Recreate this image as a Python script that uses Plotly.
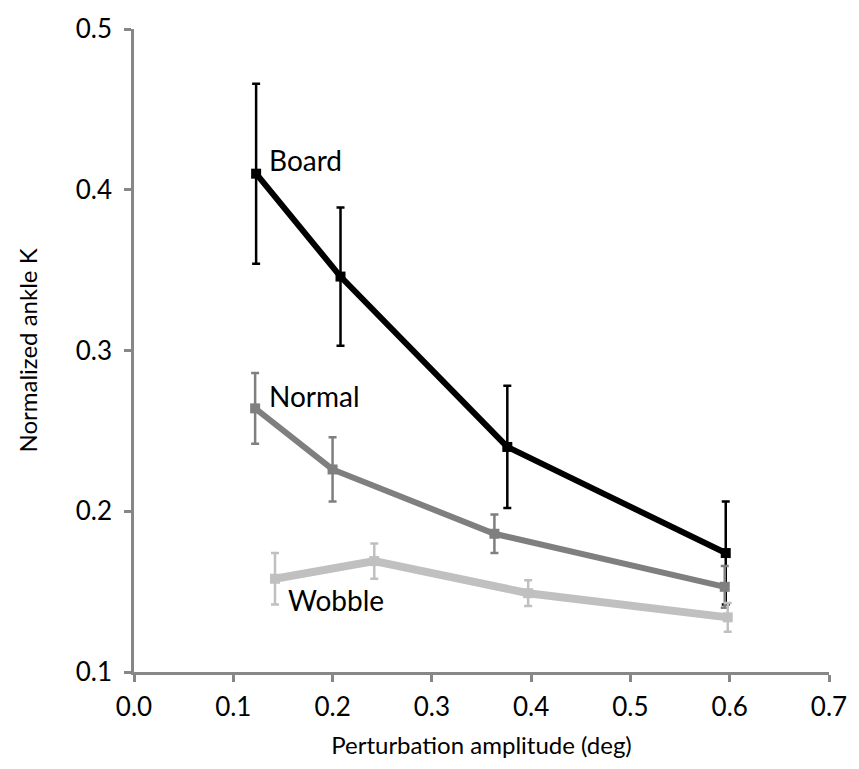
import plotly.graph_objects as go

# Perturbation amplitudes (deg), normalized ankle stiffness and error bars per condition
board_x = [0.123, 0.208, 0.376, 0.596]
board_y = [0.410, 0.346, 0.240, 0.174]
board_err = [0.056, 0.043, 0.038, 0.032]

normal_x = [0.122, 0.200, 0.363, 0.595]
normal_y = [0.264, 0.226, 0.186, 0.153]
normal_err = [0.022, 0.020, 0.012, 0.013]

wobble_x = [0.142, 0.242, 0.397, 0.598]
wobble_y = [0.158, 0.169, 0.149, 0.134]
wobble_err = [0.016, 0.011, 0.008, 0.009]

x_ticks = [0.0, 0.1, 0.2, 0.3, 0.4, 0.5, 0.6, 0.7]
y_ticks = [0.1, 0.2, 0.3, 0.4, 0.5]

FONT = "Lato"
AXIS_GREY = "#878787"

series = [
    ("Board", board_x, board_y, board_err, "#000000", 6, "#000000"),
    ("Normal", normal_x, normal_y, normal_err, "#7f7f7f", 6, "#7f7f7f"),
    ("Wobble", wobble_x, wobble_y, wobble_err, "#c0c0c0", 8, "#c0c0c0"),
]

fig = go.Figure()
for name, xs, ys, errs, color, lw, ecolor in series:
    fig.add_trace(go.Scatter(
        x=xs, y=ys, name=name, mode="lines+markers",
        line=dict(color=color, width=lw),
        marker=dict(symbol="square", size=10, color=color),
        error_y=dict(type="data", array=errs, visible=True,
                     color=ecolor, thickness=2.5, width=4),
        showlegend=False,
    ))

# Series labels next to the curves
labels = [("Board", 0.134, 0.4185), ("Normal", 0.134, 0.272), ("Wobble", 0.153, 0.1445)]
for text, lx, ly in labels:
    fig.add_annotation(x=lx, y=ly, text=text, showarrow=False,
                       xanchor="left", yanchor="middle",
                       font=dict(family=FONT, size=28, color="#000000"))

axis_common = dict(
    showline=True, linecolor=AXIS_GREY, linewidth=2.5,
    ticks="outside", tickcolor=AXIS_GREY, tickwidth=2.5, ticklen=7,
    showgrid=False, zeroline=False,
    tickfont=dict(family=FONT, size=26, color="#000000"),
)

fig.update_layout(
    width=859, height=769,
    margin=dict(l=134, r=25, t=23, b=97),
    plot_bgcolor="white", paper_bgcolor="white",
    xaxis=dict(range=[0, 0.7], tickvals=x_ticks,
               ticktext=[f"{v:.1f}" for v in x_ticks],
               ticklabelstandoff=3,
               title=dict(text="Perturbation amplitude (deg)",
                          font=dict(family=FONT, size=24, color="#000000"),
                          standoff=17),
               **axis_common),
    yaxis=dict(range=[0.1, 0.5], tickvals=y_ticks,
               ticktext=[f"{v:.1f}" for v in y_ticks],
               ticklabelstandoff=7,
               title=dict(text="Normalized ankle K",
                          font=dict(family=FONT, size=24, color="#000000"),
                          standoff=32),
               **axis_common),
)

fig.write_html("out.html")
